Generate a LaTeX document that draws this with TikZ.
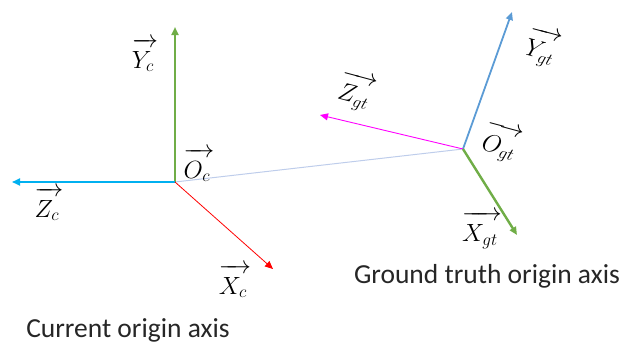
\documentclass[tikz,border=0pt]{standalone}
\usepackage{fontspec}
\setmainfont{Carlito}
\usetikzlibrary{arrows.meta}
\definecolor{ofgreen}{RGB}{112,173,71}
\definecolor{oflblue}{RGB}{0,176,240}
\definecolor{ofblue}{RGB}{91,155,213}
\definecolor{ofred}{RGB}{255,0,0}
\definecolor{ofmag}{RGB}{255,0,255}
\definecolor{oflink}{RGB}{190,205,235}
\newcommand{\vecl}[1]{\overrightarrow{\rule{0pt}{2.0ex}#1\,}}
\tikzset{
  axis/.style={-{Triangle[length=8pt,width=7pt]}},
  vlabel/.style={inner sep=0pt, font=\fontsize{23}{27}\selectfont},
  caption/.style={inner sep=0pt, anchor=base, font=\fontsize{27.5}{32}\selectfont, text=black!85},
}
\begin{document}
\begin{tikzpicture}[x=1pt,y=-1pt]
\useasboundingbox (0,0) rectangle (635,343);
% current origin
\coordinate (oc) at (175,182);
\coordinate (yc) at (175,27);
\coordinate (zc) at (12,182);
\coordinate (xc) at (273,269);
% ground truth origin
\coordinate (og) at (463,149);
\coordinate (yg) at (512,12);
\coordinate (zg) at (320,115);
\coordinate (xg) at (517,235);
\draw[oflink, line width=1pt] (oc) -- (og);
\draw[axis, ofgreen, line width=2.4pt] (oc) -- (yc);
\draw[axis, oflblue, line width=1.8pt] (oc) -- (zc);
\draw[axis, ofred, line width=0.8pt] (oc) -- (xc);
\draw[axis, ofblue, line width=1.8pt] (og) -- (yg);
\draw[axis, ofmag, line width=0.9pt] (og) -- (zg);
\draw[axis, ofgreen, line width=2.4pt] (og) -- (xg);
% labels
\node[vlabel] (lyc) at (145,55) {$\vecl{Y_c}$};
\node[vlabel] (loc) at (199,165) {$\vecl{O_c}$};
\node[vlabel] (lzc) at (49,204) {$\vecl{Z_c}$};
\node[vlabel] (lxc) at (235,281) {$\vecl{X_c}$};
\node[vlabel, rotate=-15] (lyg) at (543,48) {$\vecl{Y_{gt}}$};
\node[vlabel, rotate=-15] (lzg) at (357,92) {$\vecl{Z_{gt}}$};
\node[vlabel, rotate=-15] (log) at (502,143) {$\vecl{O_{gt}}$};
\node[vlabel] (lxg) at (482,230) {$\vecl{X_{gt}}$};
\node[caption] (cc) at (128,337) {Current origin axis};
\node[caption] (cg) at (487,283) {Ground truth origin axis};
\end{tikzpicture}
\end{document}
